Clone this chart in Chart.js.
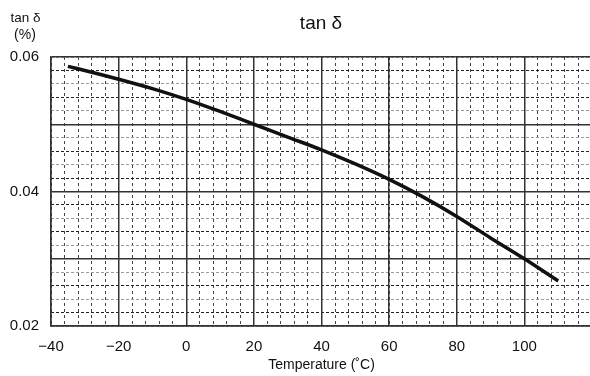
<!DOCTYPE html>
<html>
<head>
<meta charset="utf-8">
<script src="https://cdn.jsdelivr.net/npm/chart.js@4/dist/chart.umd.min.js"></script>
<style>
  html, body { margin: 0; padding: 0; background: #fff; overflow: hidden; }
  #myChart { display: block; }
</style>
</head>
<body>
<canvas id="myChart" width="594" height="376"></canvas>
<script>
// temperature (C) and tan delta (%)
const temps = [-35, -30, -20, -10, 0, 10, 20, 30, 40, 50, 60, 70, 80, 90, 100, 110];
const tanDelta = [0.0586, 0.0580, 0.0567, 0.0553, 0.0537, 0.0519, 0.0500, 0.0481, 0.0462, 0.0441, 0.0418, 0.0392, 0.0363, 0.0331, 0.0300, 0.0267];
const xTickLabels = [-40, -20, 0, 20, 40, 60, 80, 100];
const yTickLabels = ['0.02', '0.04', '0.06'];

const FONT = 'Liberation Sans, Arial, Helvetica, sans-serif';

const labelsPlugin = {
  id: 'labels',
  afterDraw(chart) {
    const c = chart.ctx;
    c.save();
    c.fillStyle = '#111';
    c.textAlign = 'center';
    c.textBaseline = 'alphabetic';
    c.font = '19px ' + FONT;
    c.fillText('tan δ', 321, 29);
    c.font = '13.5px ' + FONT;
    c.fillText('tan δ', 25.5, 21.5);
    c.font = '14px ' + FONT;
    c.fillText('(%)', 25, 38.5);
    c.restore();
  }
};

const ctx = document.getElementById('myChart').getContext('2d');
const myChart = new Chart(ctx, {
  type: 'line',
  data: {
    datasets: [{
      data: temps.map((t, i) => ({ x: t, y: tanDelta[i] })),
      borderColor: '#111',
      borderWidth: 3.5,
      pointRadius: 0,
      cubicInterpolationMode: 'monotone',
      fill: false
    }]
  },
  options: {
    responsive: false,
    animation: false,
    layout: { padding: { top: 57, left: 0, right: 2, bottom: 0 } },
    plugins: { legend: { display: false }, tooltip: { enabled: false } },
    scales: {
      xm: {
        type: 'linear', position: 'bottom', min: -40, max: 120, z: -1,
        ticks: { display: false, stepSize: 4 },
        border: { display: false, dash: [3, 3] },
        grid: { color: '#444', lineWidth: 1, drawTicks: false },
        afterFit: s => { s.height = 0; s.paddingLeft = 0; s.paddingRight = 0; }
      },
      ym: {
        type: 'linear', position: 'left', min: 0.02, max: 0.06, z: -1,
        ticks: { display: false, stepSize: 0.002 },
        border: { display: false, dash: [3, 2] },
        grid: {
          color: c => (Math.round(c.tick.value * 1000) % 4 === 2 ? '#222' : '#999'),
          lineWidth: 1, drawTicks: false
        },
        afterFit: s => { s.width = 0; s.paddingTop = 0; s.paddingBottom = 0; }
      },
      x: {
        type: 'linear', position: 'bottom', min: -40, max: 120,
        ticks: {
          stepSize: 20, padding: 12, color: '#111', maxRotation: 0,
          font: { family: FONT, size: 15 },
          callback: v => (xTickLabels.includes(v) ? (v < 0 ? '\u2212' + (-v) : String(v)) : '')
        },
        border: { display: true, color: '#333', width: 1.5 },
        grid: { color: '#333', lineWidth: 1.5, drawTicks: false },
        title: {
          display: true, text: 'Temperature (˚C)', color: '#111',
          font: { family: FONT, size: 14 }, padding: { top: 0, bottom: 2 }
        },
        afterFit: s => { s.height = 50; s.paddingLeft = 0; s.paddingRight = 0; }
      },
      y: {
        type: 'linear', position: 'left', min: 0.02, max: 0.06,
        ticks: {
          stepSize: 0.01, padding: 12, color: '#111',
          font: { family: FONT, size: 15 },
          callback: v => {
            const s = v.toFixed(2);
            return yTickLabels.includes(s) ? s : '';
          }
        },
        border: { display: true, color: '#333', width: 1.5 },
        grid: { color: '#333', lineWidth: 1.5, drawTicks: false },
        afterFit: s => { s.width = 51; s.paddingTop = 0; s.paddingBottom = 0; }
      }
    }
  },
  plugins: [labelsPlugin]
});
</script>
</body>
</html>
